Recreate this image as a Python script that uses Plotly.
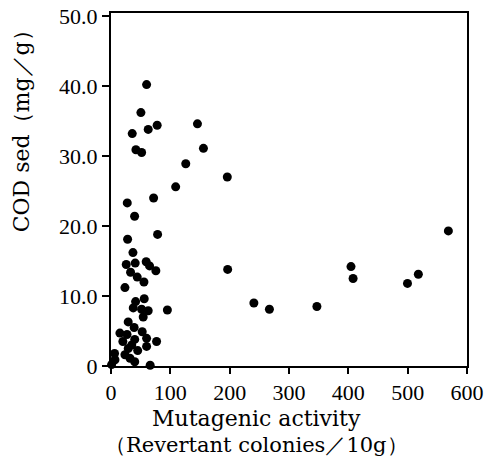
import plotly.graph_objects as go

# Mutagenic activity (Revertant colonies / 10g)
mutagenic = [60, 50.4, 77.8, 62.7, 35.8, 145.7, 155.8, 42, 51.6, 126,
             109, 71.8, 27.4, 39.8, 196, 196.6, 240.8, 267, 347, 404.5,
             408, 499.7, 518, 568.6,
             28, 78.5, 37, 25.7, 40.8, 59.3, 65, 75.6, 33, 44.2, 55.5, 23.5,
             56, 41.5, 37.5, 51.6, 62.7, 54.3, 95, 29, 39, 15,
             52.6, 60, 76.8, 60, 29, 23.5, 32, 6.7, 40, 66, 1, 6,
             40, 35, 45, 20, 27]
# COD sed (mg/g)
cod_sed = [40.2, 36.2, 34.4, 33.8, 33.2, 34.6, 31.1, 30.9, 30.5, 28.9,
           25.6, 24.0, 23.3, 21.4, 27.0, 13.8, 9.0, 8.1, 8.5, 14.2,
           12.5, 11.8, 13.1, 19.3,
           18.1, 18.8, 16.2, 14.5, 14.7, 14.9, 14.3, 13.6, 13.4, 12.7, 12.0, 11.2,
           9.6, 9.2, 8.3, 8.1, 7.9, 7.0, 8.0, 6.3, 5.5, 4.7,
           4.9, 3.95, 3.5, 2.8, 2.5, 1.6, 1.1, 0.9, 0.6, 0.1, 0.2, 1.8,
           3.8, 3.0, 2.2, 3.5, 4.5]

x_ticks = [0, 100, 200, 300, 400, 500, 600]
x_ticklabels = ["0", "100", "200", "300", "400", "500", "600"]
y_ticks = [0, 10, 20, 30, 40, 50]
y_ticklabels = ["0", "10.0", "20.0", "30.0", "40.0", "50.0"]

fig = go.Figure()
fig.add_trace(go.Scatter(
    x=mutagenic, y=cod_sed, mode="markers",
    marker=dict(size=9, color="black", line=dict(width=0)),
    cliponaxis=False, showlegend=False,
))

tickfont = dict(family="Liberation Serif", size=22, color="black")
fig.update_layout(
    width=488, height=459,
    margin=dict(l=111, r=21, t=13, b=93, autoexpand=False),
    paper_bgcolor="white", plot_bgcolor="white",
    xaxis=dict(range=[0, 600], tickvals=x_ticks, ticktext=x_ticklabels,
               showgrid=False, zeroline=False, showline=True, mirror=True,
               linecolor="black", linewidth=2, ticks="outside", ticklen=6,
               tickwidth=1.5, tickcolor="black", tickfont=tickfont,
               automargin=False),
    yaxis=dict(range=[0, 50.43], tickvals=y_ticks, ticktext=y_ticklabels,
               showgrid=False, zeroline=False, showline=True, mirror=True,
               linecolor="black", linewidth=2, ticks="outside", ticklen=7,
               tickwidth=1.5, tickcolor="black", tickfont=tickfont,
               automargin=False),
    annotations=[
        dict(text="Mutagenic activity", xref="paper", yref="paper",
             x=0.409, y=-0.150, xanchor="center", yanchor="middle",
             showarrow=False,
             font=dict(family="DejaVu Serif", size=22, color="black")),
        dict(text="（Revertant colonies／10g）", xref="paper", yref="paper",
             x=0.409, y=-0.224, xanchor="center", yanchor="middle",
             showarrow=False,
             font=dict(family="DejaVu Serif", size=21, color="black")),
        dict(text="COD sed（mg／g）", xref="paper", yref="paper",
             x=-0.249, y=0.68, xanchor="center", yanchor="middle",
             textangle=-90, showarrow=False,
             font=dict(family="DejaVu Serif", size=22, color="black")),
    ],
)

# remove the browser's default 8px page margin so the figure fills the window
fig.write_html("out.html",
               config={"displayModeBar": False},
               post_script="document.body.style.margin='0';"
                           "document.body.style.overflow='hidden';")
